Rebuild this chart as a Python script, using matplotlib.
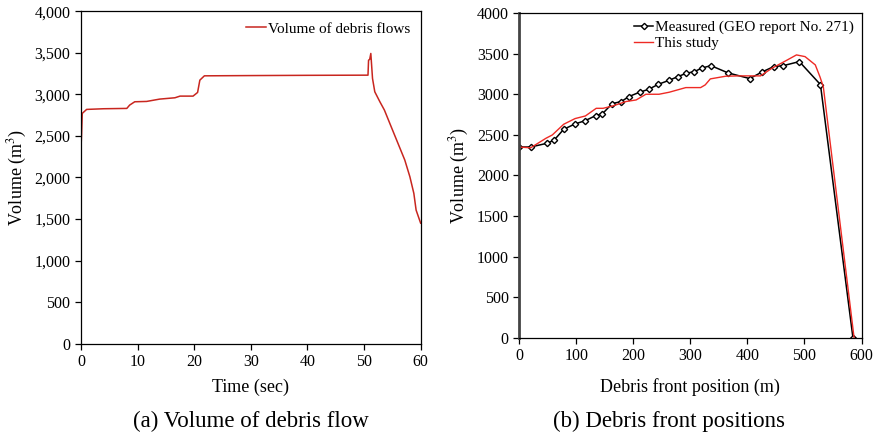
import numpy as np
import matplotlib
matplotlib.use('Agg')
import matplotlib.pyplot as plt
from matplotlib.ticker import FuncFormatter

plt.rcParams['font.family'] = ['Liberation Serif', 'DejaVu Serif']
plt.rcParams['mathtext.fontset'] = 'stix'

# (a) volume of debris flow vs time
time_s = [0, 0.1, 0.23, 1.0, 4.0, 8.1, 8.6, 9.5, 11.6, 13.9, 16.6, 17.5, 19.8,
          20.6, 21.0, 21.8, 30, 40, 50.7, 50.8, 51.0, 51.2, 51.5, 51.9, 52.8,
          53.6, 54.8, 56.0, 57.2, 58.1, 58.8, 59.2, 60.0]
volume = [2350, 2500, 2770, 2818, 2826, 2830, 2870, 2910, 2914, 2942, 2958, 2978, 2978,
          3022, 3170, 3222, 3225, 3228, 3230, 3410, 3420, 3491, 3190, 3030, 2910,
          2810, 2609, 2409, 2209, 2008, 1808, 1607, 1450]

# (b) debris front positions
meas_x = [0, 20, 49, 61, 78, 98, 116, 134, 146, 163, 179, 192, 211, 227, 244,
          263, 278, 293, 307, 321, 336, 366, 404, 426, 446, 463, 491, 528, 585]
meas_v = [2350, 2350, 2396, 2433, 2568, 2634, 2675, 2736, 2760, 2884, 2909, 2970,
          3024, 3060, 3122, 3171, 3216, 3257, 3278, 3323, 3351, 3262, 3192, 3274,
          3339, 3351, 3401, 3118, 0]
study_x = [0, 20, 47, 58, 78, 98, 116, 135, 147, 164, 187, 205, 222, 245, 263,
           292, 318, 326, 335, 362, 385, 423, 443, 466, 486, 501, 519, 527, 533, 587]
study_v = [2350, 2340, 2458, 2498, 2630, 2700, 2732, 2826, 2826, 2855, 2909, 2929,
           2999, 2999, 3024, 3081, 3081, 3114, 3188, 3221, 3225, 3225, 3319, 3406,
           3483, 3462, 3360, 3216, 3093, 0]

fig = plt.figure(figsize=(8.8, 4.37), dpi=100)
ax1 = fig.add_axes([0.092, 0.2135, 0.386, 0.761])
ax2 = fig.add_axes([0.590, 0.2265, 0.389, 0.744])

ax1.plot(time_s, volume, color='#c8261f', lw=1.1, label='Volume of debris flows')
ax1.set_xlim(0, 60)
ax1.set_ylim(0, 4000)
ax1.set_xticks(range(0, 61, 10))
ax1.set_yticks(range(0, 4001, 500))
ax1.yaxis.set_major_formatter(FuncFormatter(lambda v, p: f'{int(v):,}'))
ax1.set_xlabel('Time (sec)', fontsize=13, labelpad=6)
ax1.set_ylabel('Volume (m$^3$)', fontsize=13, labelpad=4)
ax1.legend(loc='upper right', frameon=False, fontsize=11, handlelength=1.3,
           handletextpad=0.1, borderaxespad=0.3)

ax2.plot(meas_x, meas_v, color='black', lw=1.1, marker='D', ms=3.2,
         mfc='white', mec='black', mew=1.0, label='Measured (GEO report No. 271)')
ax2.plot(study_x, study_v, color='#ee2a24', lw=1.0, label='This study')
ax2.set_xlim(0, 600)
ax2.set_ylim(0, 4000)
ax2.set_xticks(range(0, 601, 100))
ax2.set_yticks(range(0, 4001, 500))
ax2.set_xlabel('Debris front position (m)', fontsize=13, labelpad=10)
ax2.set_ylabel('Volume (m$^3$)', fontsize=13, labelpad=4)
ax2.legend(loc='upper right', frameon=False, fontsize=11, handlelength=1.3,
           handletextpad=0.1, borderaxespad=0.1, labelspacing=0.15)
ax2.spines['left'].set_linewidth(2.0)
ax2.spines['left'].set_color('#444444')

for ax in (ax1, ax2):
    ax.tick_params(direction='out', length=4, labelsize=11.5, width=0.9)
    for s in ('top', 'right', 'bottom'):
        ax.spines[s].set_linewidth(0.9)
ax1.spines['left'].set_linewidth(0.9)

fig.text(0.285, 0.022, '(a) Volume of debris flow', ha='center', fontsize=16.5)
fig.text(0.76, 0.022, '(b) Debris front positions', ha='center', fontsize=16.5)

fig.savefig('out.png', dpi=100)
